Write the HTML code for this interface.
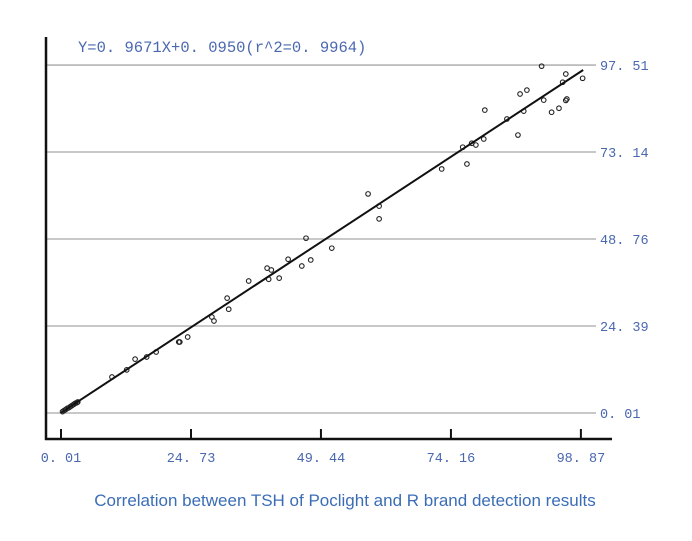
<!DOCTYPE html>
<html><head><meta charset="utf-8"><style>
body{margin:0;background:#fff;}
svg text{font-family:"Liberation Mono",monospace;}
</style></head><body>
<svg width="692" height="536" viewBox="0 0 692 536" id="chart">
<text x="78" y="52" font-size="15.5" fill="#4a68b0">Y=0. 9671X+0. 0950(r^2=0. 9964)</text>
<text x="345" y="506" font-size="17" text-anchor="middle" fill="#3b6db6" style="font-family:'Liberation Sans',sans-serif">Correlation between TSH of Poclight and R brand detection results</text>
<g id="grid"></g><g id="axes"></g><g id="points"></g><g id="fit"></g>
</svg>
<script>
const yTicks=[0.01,24.39,48.76,73.14,97.51];
const xTicks=[0.01,24.73,49.44,74.16,98.87];
const xTickLabels=["0. 01","24. 73","49. 44","74. 16","98. 87"];
const yTickLabels=["0. 01","24. 39","48. 76","73. 14","97. 51"];
const xs=[91.4,96.0,99.2,95.4,91.8,93.3,94.7,96.2,96.0,87.3,88.6,88.0,84.8,80.6,86.9,80.4,78.9,78.1,76.4,77.2,72.4,58.4,60.5,60.5,46.6,51.5,43.2,47.5,45.8,39.2,40.0,41.5,39.5,35.7,31.6,31.9,28.7,29.1,24.1,22.4,22.6,18.1,16.3,14.1,12.5,9.7,0.3,0.6,0.9,1.2,1.5,1.8,2.1,2.4,2.7,3.0,3.2];
const ys=[97.2,95.0,93.8,92.7,87.7,84.3,85.4,88.0,87.6,89.4,90.5,84.6,82.4,84.9,77.9,76.8,75.1,75.6,74.5,69.8,68.4,61.4,58.0,54.4,49.0,46.2,43.1,42.9,41.2,40.6,40.1,37.8,37.5,37.0,32.2,29.1,26.9,25.8,21.3,19.9,19.9,17.1,15.7,15.1,12.1,10.1,0.4,0.7,1.0,1.3,1.5,1.8,2.1,2.4,2.7,2.9,3.1];
const slope=0.9671, intercept=0.095;
const X=v=>61+(v-0.01)*(130/24.72);
const Y=v=>413-(v-0.01)*(87/24.38);
const NS="http://www.w3.org/2000/svg";
function mk(t,a,p){const e=document.createElementNS(NS,t);for(const k in a)e.setAttribute(k,a[k]);p.appendChild(e);return e;}
const grid=document.getElementById('grid'),axes=document.getElementById('axes'),pts=document.getElementById('points'),fit=document.getElementById('fit');
yTicks.forEach((v,i)=>{
 const l=mk('line',{x1:47,x2:596,y1:Y(v),y2:Y(v),stroke:'#a8a8a8','stroke-width':1.3},grid);
 
 
 const t=mk('text',{x:600,y:Y(v)+5,'font-size':13.5,fill:'#4a68b0'},grid);
 t.textContent=yTickLabels[i];
 
 
});
const ya=mk('line',{x1:46,x2:46,y1:37,y2:440,stroke:'#111','stroke-width':2.5},axes);


const xa=mk('line',{x1:45,x2:612,y1:439,y2:439,stroke:'#111','stroke-width':2.5},axes);


xTicks.forEach((v,i)=>{
 const tk=mk('line',{x1:X(v),x2:X(v),y1:429,y2:439,stroke:'#111','stroke-width':2},axes);
 
 
 const t=mk('text',{x:X(v),y:462,'font-size':13.5,fill:'#4a68b0','text-anchor':'middle'},axes);
 t.textContent=xTickLabels[i];
 
 
});
xs.forEach((x,i)=>{
 const c=mk('circle',{cx:X(x),cy:Y(ys[i]),r:2.3,fill:'none',stroke:'#222','stroke-width':1.1},pts);
 
 
});
const fl=mk('line',{x1:X(0),y1:Y(intercept),x2:X(99.3),y2:Y(slope*99.3+intercept),stroke:'#111','stroke-width':2},fit);


</script>
</body></html>
